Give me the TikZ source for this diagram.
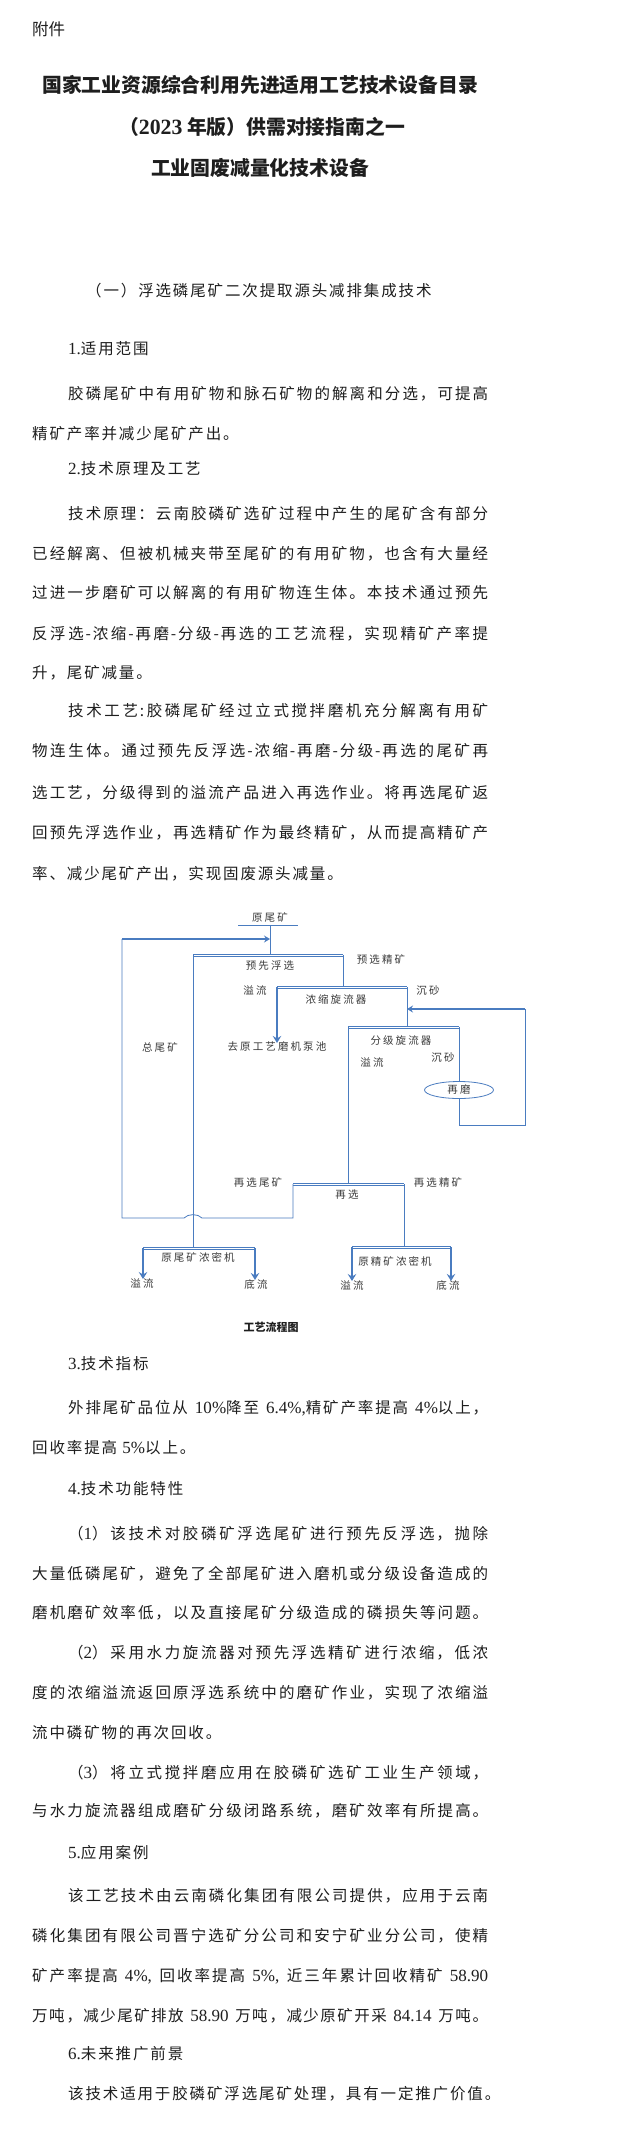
\documentclass[tikz,border=0pt]{standalone}
\usepackage{fontspec}
\setmainfont{Liberation Serif}
\newfontfamily\cjk{Noto Sans CJK SC}
\newfontfamily\bodyf[LetterSpace=12]{Noto Sans CJK SC}
\newfontfamily\dgf[LetterSpace=20]{Noto Sans CJK SC}
\newfontfamily\lr[Scale=1.1]{Liberation Serif}
\usetikzlibrary{arrows.meta,shapes.geometric}
\XeTeXlinebreaklocale "zh"
\XeTeXlinebreakskip=0pt plus 3pt minus 0.6pt
\definecolor{lnc}{HTML}{4A7CC0}
\definecolor{dtxt}{HTML}{3A3A3A}
\definecolor{txt}{HTML}{1E1E1E}
\newcommand\JL[2]{\parbox[b]{#1}{\parindent=0pt\parfillskip=0pt\relax\tolerance=9999\hbadness=10000\emergencystretch=0pt #2}}
\newcommand\mkbar[2]{\draw[barl] ([yshift=1.1pt]#1) -- ([yshift=1.1pt]#2); \draw[barl] ([yshift=-1.1pt]#1) -- ([yshift=-1.1pt]#2);}
\tikzset{
  body/.style={anchor=base west, inner sep=0pt, text=txt, font=\bodyf\fontsize{15.5}{18}\selectfont},
  ttl/.style={anchor=base, inner sep=0pt, text=txt, font=\cjk\bfseries\fontsize{19.8}{22}\selectfont},
  lab/.style={inner sep=0pt, text=dtxt, font=\dgf\fontsize{10.5}{12}\selectfont},
  ell/.style={ellipse, draw=lnc, line width=0.8pt, minimum width=69pt, minimum height=17pt, inner sep=0pt, text=dtxt, font=\dgf\fontsize{10.5}{12}\selectfont},
  ln/.style={draw=lnc, line width=0.8pt},
  barl/.style={draw=lnc, line width=0.8pt, line cap=butt},
  marr/.style={draw=lnc, line width=1.3pt, -{Stealth[length=6pt,width=7pt,inset=2pt]}},
  tarr/.style={draw=lnc, line width=1.8pt, -{Stealth[length=7pt,width=8.5pt,inset=2.5pt]}}
}
\begin{document}
\begin{tikzpicture}[x=1pt,y=-1pt]
\fill[white] (0,0) rectangle (631,2149);
\useasboundingbox (0,0) rectangle (631,2149);

% ---------- header ----------
\node[anchor=base west, inner sep=0pt, text=txt, font=\cjk\fontsize{16.5}{18}\selectfont] (fj) at (32,36) {附件};
\node[ttl] (t1) at (260,92.5) {国家工业资源综合利用先进适用工艺技术设备目录};
\node[ttl] (t2) at (262,134) {（{\lr\bfseries 2023} 年版）供需对接指南之一};
\node[ttl] (t3) at (260,175) {工业固废减量化技术设备};
\node[body] (sec) at (86,296) {（一）浮选磷尾矿二次提取源头减排集成技术};

% ---------- body part 1 ----------
\node[body] (h1) at (68,354) {{\lr 1.}适用范围};
\node[body] (b1) at (68,399) {\JL{420pt}{胶磷尾矿中有用矿物和脉石矿物的解离和分选，可提高}};
\node[body] (b2) at (32,439) {精矿产率并减少尾矿产出。};
\node[body] (h2) at (68,474) {{\lr 2.}技术原理及工艺};
\node[body] (b3) at (68,519) {\JL{420pt}{技术原理：云南胶磷矿选矿过程中产生的尾矿含有部分}};
\node[body] (b4) at (32,559) {\JL{456pt}{已经解离、但被机械夹带至尾矿的有用矿物，也含有大量经}};
\node[body] (b5) at (32,598) {\JL{456pt}{过进一步磨矿可以解离的有用矿物连生体。本技术通过预先}};
\node[body] (b6) at (32,639) {\JL{456pt}{反浮选-浓缩-再磨-分级-再选的工艺流程，实现精矿产率提}};
\node[body] (b7) at (32,678) {升，尾矿减量。};
\node[body] (b8) at (68,716) {\JL{420pt}{技术工艺:胶磷尾矿经过立式搅拌磨机充分解离有用矿}};
\node[body] (b9) at (32,756) {\JL{456pt}{物连生体。通过预先反浮选-浓缩-再磨-分级-再选的尾矿再}};
\node[body] (b10) at (32,798) {\JL{456pt}{选工艺，分级得到的溢流产品进入再选作业。将再选尾矿返}};
\node[body] (b11) at (32,838) {\JL{456pt}{回预先浮选作业，再选精矿作为最终精矿，从而提高精矿产}};
\node[body] (b12) at (32,879) {率、减少尾矿产出，实现固废源头减量。};

% ---------- flow diagram ----------
\coordinate (feedL) at (238,925);
\coordinate (feedR) at (298,925);
\coordinate (feedM) at (270,925);
\coordinate (fin) at (270,939);
\coordinate (ff1) at (193,955);
\coordinate (ff2) at (343,955);
\coordinate (ffm) at (270,955);
\coordinate (th1) at (277,987);
\coordinate (th2) at (407,987);
\coordinate (thm) at (343,987);
\coordinate (cl1) at (348,1027);
\coordinate (cl2) at (459,1027);
\coordinate (clm) at (407,1027);
\coordinate (rin) at (407,1009);
\coordinate (rtop) at (525,1009);
\coordinate (rbot) at (525,1125);
\coordinate (rs1) at (293,1184);
\coordinate (rs2) at (404,1184);
\coordinate (rsm) at (348,1184);
\coordinate (lb1) at (293,1218);
\coordinate (hopR) at (202,1218);
\coordinate (hopL) at (184,1218);
\coordinate (lb2) at (122,1218);
\coordinate (ltop) at (122,939);
\coordinate (tt1) at (143,1248);
\coordinate (tt2) at (255,1248);
\coordinate (ttm) at (193,1248);
\coordinate (ct1) at (352,1247);
\coordinate (ct2) at (451,1247);
\coordinate (ctm) at (404,1247);

\node[lab] (lyw) at (270,917) {原尾矿};
\node[lab] (lff) at (270,966) {预先浮选};
\node[lab] (lyxjk) at (381,959) {预选精矿};
\node[lab] (lyl1) at (255,990) {溢流};
\node[lab] (lth) at (336,999) {浓缩旋流器};
\node[lab] (lcs1) at (428,991) {沉砂};
\node[lab] (lqy) at (277,1047) {去原工艺磨机泵池};
\node[lab] (lzwk) at (160,1047) {总尾矿};
\node[lab] (lcl) at (401,1041) {分级旋流器};
\node[lab] (lyl2) at (372,1062) {溢流};
\node[lab] (lcs2) at (443,1058) {沉砂};
\node[ell] (zm) at (459,1090) {再磨};
\node[lab] (lzxwk) at (258,1182) {再选尾矿};
\node[lab] (lzx) at (347,1195) {再选};
\node[lab] (lzxjk) at (438,1182) {再选精矿};
\node[lab] (ltt) at (198,1257) {原尾矿浓密机};
\node[lab] (lyl3) at (142,1283) {溢流};
\node[lab] (ldl3) at (256,1284) {底流};
\node[lab] (lct) at (395,1261) {原精矿浓密机};
\node[lab] (lyl4) at (352,1285) {溢流};
\node[lab] (ldl4) at (448,1285) {底流};

\draw[ln] (feedL) -- (feedR);
\draw[ln] (feedM) -- (ffm);
\draw[ln] (ff2) -- (thm);
\draw[ln] (th2) -- (clm);
\draw[ln] (cl2) -- (zm.north);
\draw[ln] (zm.south) |- (rbot) -- (rtop);
\draw[marr] (rtop) -- (rin);
\draw[ln] (cl1) -- (rsm);
\draw[ln] (rs1) -- (lb1) -- (hopR) .. controls (198,1213.5) and (188,1213.5) .. (hopL) -- (lb2) -- (ltop);
\draw[marr] (ltop) -- (fin);
\draw[ln] (ff1) -- (ttm);
\draw[ln] (rs2) -- (ctm);
\draw[tarr] (th1) -- ([yshift=-1pt]th1 |- lqy.north);
\draw[tarr] (tt1) -- ([yshift=-1pt]tt1 |- lyl3.north);
\draw[tarr] (tt2) -- ([yshift=-1pt]tt2 |- ldl3.north);
\draw[tarr] (ct1) -- ([yshift=-1pt]ct1 |- lyl4.north);
\draw[tarr] (ct2) -- ([yshift=-1pt]ct2 |- ldl4.north);
\mkbar{ff1}{ff2}
\mkbar{th1}{th2}
\mkbar{cl1}{cl2}
\mkbar{rs1}{rs2}
\mkbar{tt1}{tt2}
\mkbar{ct1}{ct2}

\node[anchor=base, inner sep=0pt, text=txt, font=\cjk\bfseries\fontsize{11}{12}\selectfont] (cap) at (271,1331) {工艺流程图};

% ---------- body part 2 ----------
\node[body] (h3) at (68,1369) {{\lr 3.}技术指标};
\node[body] (c1) at (68,1413) {\JL{420pt}{外排尾矿品位从 {\lr 10\%}降至 {\lr 6.4\%,}精矿产率提高 {\lr 4\%}以上，}};
\node[body] (c2) at (32,1453) {回收率提高 {\lr 5\%}以上。};
\node[body] (h4) at (68,1494) {{\lr 4.}技术功能特性};
\node[body] (d1) at (68,1539) {\JL{420pt}{（{\lr 1}）该技术对胶磷矿浮选尾矿进行预先反浮选，抛除}};
\node[body] (d2) at (32,1579) {\JL{456pt}{大量低磷尾矿，避免了全部尾矿进入磨机或分级设备造成的}};
\node[body] (d3) at (32,1618) {\JL{456pt}{磨机磨矿效率低，以及直接尾矿分级造成的磷损失等问题。}};
\node[body] (d4) at (68,1658) {\JL{420pt}{（{\lr 2}）采用水力旋流器对预先浮选精矿进行浓缩，低浓}};
\node[body] (d5) at (32,1698) {\JL{456pt}{度的浓缩溢流返回原浮选系统中的磨矿作业，实现了浓缩溢}};
\node[body] (d6) at (32,1738) {流中磷矿物的再次回收。};
\node[body] (d7) at (68,1778) {\JL{420pt}{（{\lr 3}）将立式搅拌磨应用在胶磷矿选矿工业生产领域，}};
\node[body] (d8) at (32,1816) {\JL{456pt}{与水力旋流器组成磨矿分级闭路系统，磨矿效率有所提高。}};
\node[body] (h5) at (68,1858) {{\lr 5.}应用案例};
\node[body] (e1) at (68,1901) {\JL{420pt}{该工艺技术由云南磷化集团有限公司提供，应用于云南}};
\node[body] (e2) at (32,1941) {\JL{456pt}{磷化集团有限公司晋宁选矿分公司和安宁矿业分公司，使精}};
\node[body] (e3) at (32,1981) {\JL{456pt}{矿产率提高 {\lr 4\%,} 回收率提高 {\lr 5\%,} 近三年累计回收精矿 {\lr 58.90}}};
\node[body] (e4) at (32,2021) {\JL{456pt}{万吨，减少尾矿排放 {\lr 58.90} 万吨，减少原矿开采 {\lr 84.14} 万吨。}};
\node[body] (h6) at (68,2059) {{\lr 6.}未来推广前景};
\node[body] (f1) at (68,2099) {该技术适用于胶磷矿浮选尾矿处理，具有一定推广价值。};
\end{tikzpicture}
\end{document}
